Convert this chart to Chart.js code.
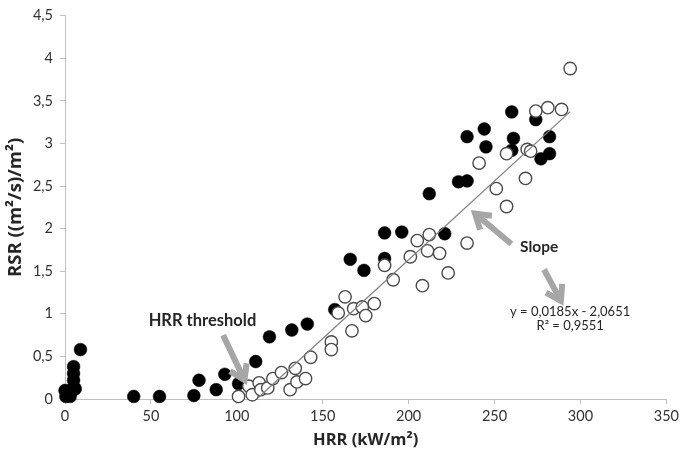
<!DOCTYPE html>
<html>
<head>
<meta charset="utf-8">
<script src="https://cdn.jsdelivr.net/npm/chart.js@4"></script>
<style>
  html, body { margin: 0; padding: 0; background: #fff; }
  #wrap { width: 683px; height: 455px; }
</style>
</head>
<body>
<div id="wrap"><canvas id="c" width="683" height="455"></canvas></div>
<script>
// Measured runs: heat release rate vs. smoke release rate
const hrrSolid = [0, 0.5, 1, 3, 4, 5, 5, 5, 5, 5, 6, 9,
  40, 55, 75, 78, 88, 93, 101, 111, 119, 132, 141, 157, 166, 174, 186, 186, 196,
  212, 221, 229, 234, 234, 244, 245, 260, 261, 260, 274, 282, 277, 282];
const rsrSolid = [0.1, 0.03, 0.06, 0.03, 0.1, 0.14, 0.22, 0.3, 0.38, 0.11, 0.12, 0.58,
  0.03, 0.03, 0.04, 0.22, 0.11, 0.29, 0.18, 0.44, 0.73, 0.81, 0.88, 1.05, 1.64, 1.51, 1.95, 1.65, 1.96,
  2.41, 1.94, 2.55, 2.56, 3.08, 3.17, 2.96, 3.37, 3.06, 2.92, 3.28, 3.08, 2.82, 2.88];

const hrrOpen = [101, 107, 109, 113, 114, 118, 121, 126, 131, 135, 134, 140, 143,
  155, 155, 159, 163, 167, 168, 173, 175, 180, 186, 191, 201, 205, 208, 211, 212, 218, 223,
  234, 241, 251, 257, 257, 268, 269, 271, 274, 281, 289, 294];
const rsrOpen = [0.03, 0.15, 0.05, 0.19, 0.11, 0.13, 0.24, 0.31, 0.11, 0.2, 0.36, 0.24, 0.49,
  0.67, 0.58, 1.01, 1.2, 0.8, 1.06, 1.08, 0.98, 1.12, 1.57, 1.4, 1.67, 1.86, 1.33, 1.74, 1.93, 1.71, 1.48,
  1.83, 2.77, 2.47, 2.26, 2.88, 2.59, 2.93, 2.91, 3.38, 3.42, 3.4, 3.88];

// Linear fit of the open-symbol series (as stated in the equation label)
const fitSlope = 0.0185;
const fitIntercept = -2.0651;
const fitR2 = 0.9551;

// Axis ranges
const xTicks = [0, 50, 100, 150, 200, 250, 300, 350];
const yTicks = [0, 0.5, 1, 1.5, 2, 2.5, 3, 3.5, 4, 4.5];

const dec = v => String(v).replace('.', ',');

const solidPts = hrrSolid.map((x, i) => ({ x, y: rsrSolid[i] }));
const openPts = hrrOpen.map((x, i) => ({ x, y: rsrOpen[i] }));
const fitStart = -fitIntercept / fitSlope;
const fitEnd = Math.max(...hrrOpen);
const fitPts = [fitStart, fitEnd].map(x => ({ x, y: fitSlope * x + fitIntercept }));

const FONT = 'Lato, "Open Sans", sans-serif';
const TITLE_FONT = '"Open Sans", Lato, sans-serif';
const AXIS_GREY = '#bfbfbf';
const ARROW_GREY = '#a6a6a6';

// Callout texts and arrows, placed in data units
const callouts = {
  texts: [
    { text: 'HRR threshold', x: 80, y: 0.92, font: 'bold 16.5px ' + FONT },
    { text: 'Slope', x: 276, y: 1.78, font: 'bold 15.5px ' + FONT },
    { text: 'y = ' + dec(fitSlope) + 'x - ' + dec(-fitIntercept), x: 294, y: 1.025, font: '13px ' + FONT },
    { text: 'R\u00B2 = ' + dec(fitR2), x: 294, y: 0.865, font: '13px ' + FONT }
  ],
  arrows: [
    { from: [92, 0.75], to: [105.2, 0.19] },
    { from: [259.8, 1.82], to: [237.3, 2.2] },
    { from: [278.8, 1.52], to: [289.4, 1.12] }
  ]
};

const calloutPlugin = {
  id: 'callouts',
  afterDatasetsDraw(chart) {
    const { ctx, scales: { x, y } } = chart;
    ctx.save();
    // arrows
    ctx.strokeStyle = ARROW_GREY;
    ctx.lineWidth = 6;
    ctx.lineJoin = 'miter';
    ctx.lineCap = 'butt';
    callouts.arrows.forEach(a => {
      const x0 = x.getPixelForValue(a.from[0]), y0 = y.getPixelForValue(a.from[1]);
      const x1 = x.getPixelForValue(a.to[0]), y1 = y.getPixelForValue(a.to[1]);
      const ang = Math.atan2(y1 - y0, x1 - x0);
      const head = 17, spread = Math.PI / 5.5;
      const tx = x1 - Math.cos(ang) * 3, ty = y1 - Math.sin(ang) * 3;
      ctx.beginPath();
      ctx.moveTo(x0, y0);
      ctx.lineTo(tx, ty);
      ctx.stroke();
      ctx.beginPath();
      ctx.moveTo(tx - head * Math.cos(ang - spread), ty - head * Math.sin(ang - spread));
      ctx.lineTo(tx, ty);
      ctx.lineTo(tx - head * Math.cos(ang + spread), ty - head * Math.sin(ang + spread));
      ctx.stroke();
    });
    // texts
    ctx.fillStyle = '#262626';
    ctx.textAlign = 'center';
    ctx.textBaseline = 'middle';
    callouts.texts.forEach(t => {
      ctx.font = t.font;
      ctx.fillText(t.text, x.getPixelForValue(t.x), y.getPixelForValue(t.y));
    });
    ctx.restore();
  }
};

new Chart(document.getElementById('c'), {
  type: 'scatter',
  data: {
    datasets: [
      {
        type: 'line',
        label: 'fit',
        data: fitPts,
        borderColor: '#808080',
        borderWidth: 1.3,
        pointRadius: 0,
        fill: false,
        clip: false
      },
      {
        label: 'open',
        data: openPts,
        backgroundColor: '#ffffff',
        borderColor: '#4a4a4a',
        borderWidth: 1.4,
        pointRadius: 6.2,
        clip: false
      },
      {
        label: 'solid',
        data: solidPts,
        backgroundColor: '#000000',
        borderColor: '#000000',
        borderWidth: 0.5,
        pointRadius: 6.4,
        clip: false
      }
    ]
  },
  options: {
    responsive: false,
    animation: false,
    events: [],
    layout: { padding: { top: 12, right: 13, left: 0, bottom: 0 } },
    plugins: { legend: { display: false }, tooltip: { enabled: false } },
    scales: {
      x: {
        type: 'linear',
        min: xTicks[0],
        max: xTicks[xTicks.length - 1],
        afterBuildTicks: s => { s.ticks = xTicks.map(v => ({ value: v })); },
        afterFit: s => { s.height = 56; },
        ticks: { color: '#333', font: { family: FONT, size: 14.5 }, padding: 4, maxRotation: 0 },
        grid: { drawOnChartArea: false, drawTicks: true, tickLength: 5, color: AXIS_GREY },
        border: { color: AXIS_GREY, width: 1 },
        title: {
          display: true,
          text: 'HRR (kW/m\u00B2)',
          color: '#262626',
          font: { family: TITLE_FONT, size: 16.5, weight: 'bold' },
          padding: { top: 0, bottom: 5 }
        }
      },
      y: {
        type: 'linear',
        min: yTicks[0],
        max: yTicks[yTicks.length - 1],
        afterBuildTicks: s => { s.ticks = yTicks.map(v => ({ value: v })); },
        afterFit: s => { s.width = 65; },
        ticks: { color: '#333', font: { family: FONT, size: 14.5 }, padding: 7, callback: v => dec(v) },
        grid: { drawOnChartArea: false, drawTicks: true, tickLength: 5, color: AXIS_GREY },
        border: { color: AXIS_GREY, width: 1 },
        title: {
          display: true,
          text: 'RSR ((m\u00B2/s)/m\u00B2)',
          color: '#262626',
          font: { family: TITLE_FONT, size: 18.5, weight: 'bold' },
          padding: { top: 5, bottom: 0 }
        }
      }
    }
  },
  plugins: [calloutPlugin]
});
</script>
</body>
</html>
